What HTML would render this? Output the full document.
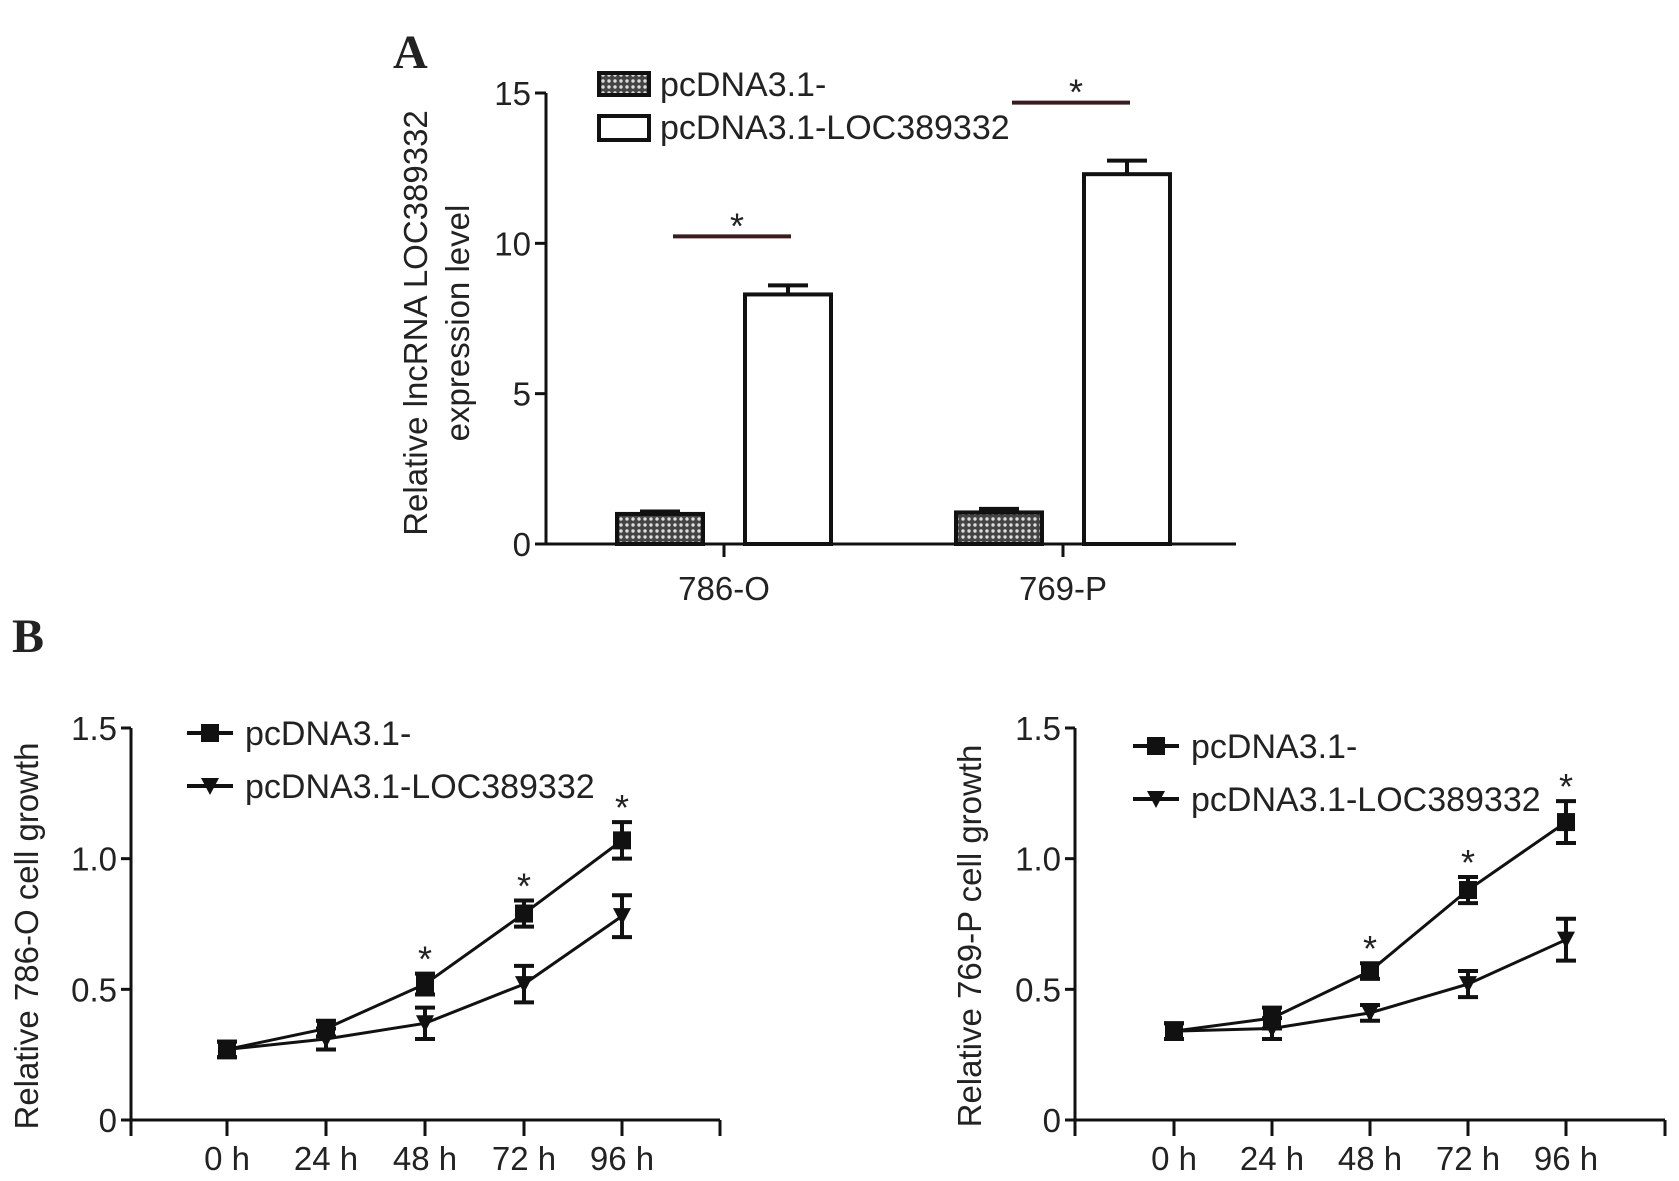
<!DOCTYPE html>
<html><head><meta charset="utf-8"><style>
html,body{margin:0;padding:0;background:#fff}
svg{display:block}
text{font-family:"Liberation Sans",Arial,sans-serif;fill:#222}
</style></head><body>
<svg id="fig" width="1679" height="1181" viewBox="0 0 1679 1181" xmlns="http://www.w3.org/2000/svg">
<defs>
<pattern id="dots" width="6" height="6" patternUnits="userSpaceOnUse">
<rect width="6" height="6" fill="#444"/><circle cx="3" cy="3" r="1.7" fill="#ddd"/>
</pattern>
</defs>
<text x="393" y="68" font-weight="bold" font-size="48" style="font-family:'Liberation Serif',serif">A</text>
<text x="12" y="652" font-weight="bold" font-size="48" style="font-family:'Liberation Serif',serif">B</text>
<g id="gA"></g>
<g id="gL"></g>
<g id="gR"></g>
</svg>
<script>
// Panel A data
const barCategories = ["786-O", "769-P"];
const barCtrl = [1.0, 1.05];
const barCtrlErr = [0.08, 0.12];
const barLoc = [8.3, 12.3];
const barLocErr = [0.3, 0.45];
const barTicks = [0, 5, 10, 15];
// Panel B data
const timeLabels = ["0 h", "24 h", "48 h", "72 h", "96 h"];
const growthTicks = [0, 0.5, 1.0, 1.5];
const tickText = ["0", "0.5", "1.0", "1.5"];
const g786Ctrl = [0.27, 0.35, 0.52, 0.79, 1.07];
const g786CtrlErr = [0.03, 0.03, 0.04, 0.05, 0.07];
const g786Loc = [0.27, 0.31, 0.37, 0.52, 0.78];
const g786LocErr = [0.03, 0.04, 0.06, 0.07, 0.08];
const g769Ctrl = [0.34, 0.39, 0.57, 0.88, 1.14];
const g769CtrlErr = [0.03, 0.04, 0.03, 0.05, 0.08];
const g769Loc = [0.34, 0.35, 0.41, 0.52, 0.69];
const g769LocErr = [0.03, 0.04, 0.03, 0.05, 0.08];
const starIdx = [2, 3, 4];

const NS = "http://www.w3.org/2000/svg";
function mk(parent, tag, attrs, txt) {
  const e = document.createElementNS(NS, tag);
  for (const k in attrs) e.setAttribute(k, attrs[k]);
  if (txt !== undefined) e.textContent = txt;
  parent.appendChild(e);
  return e;
}
const K = "#111";
const FT = 33, FL = 34, FTT = 33, FS = 36;

// ---------- Panel A ----------
(function(){
  const g = document.getElementById("gA");
  const x0 = 546, x1 = 1236, yb = 544, yt = 93, vmax = 15;
  const y = v => yb - (v / vmax) * (yb - yt);
  const centers = [724, 1063];
  const bw = 86, gap = 42;
  let e;
  e = mk(g, "line", {x1: x0, y1: yt, x2: x0, y2: yb, stroke: K, "stroke-width": 3});
  
  
  e = mk(g, "line", {x1: x0 - 1, y1: yb, x2: x1, y2: yb, stroke: K, "stroke-width": 3});
  
  
  barTicks.forEach(v => {
    mk(g, "line", {x1: x0 - 11, y1: y(v), x2: x0, y2: y(v), stroke: K, "stroke-width": 3});
    e = mk(g, "text", {x: x0 - 15, y: y(v) + 12, "font-size": FT, "text-anchor": "end"}, String(v));
    
    
  });
  barCategories.forEach((c, i) => {
    const cx = centers[i];
    mk(g, "line", {x1: cx, y1: yb, x2: cx, y2: yb + 13, stroke: K, "stroke-width": 3});
    e = mk(g, "text", {x: cx, y: yb + 56, "font-size": FT, "text-anchor": "middle"}, c);
    
    
    const xa = cx - gap / 2 - bw, xb = cx + gap / 2;
    [[xa, barCtrl[i], barCtrlErr[i]], [xb, barLoc[i], barLocErr[i]]].forEach(([bx, v, er]) => {
      mk(g, "line", {x1: bx + bw / 2, y1: y(v), x2: bx + bw / 2, y2: y(v + er), stroke: K, "stroke-width": 4});
      mk(g, "line", {x1: bx + bw / 2 - 20, y1: y(v + er), x2: bx + bw / 2 + 20, y2: y(v + er), stroke: K, "stroke-width": 4});
    });
    e = mk(g, "rect", {x: xa, y: y(barCtrl[i]), width: bw, height: yb - y(barCtrl[i]), fill: "url(#dots)", stroke: K, "stroke-width": 4});
    
    
    e = mk(g, "rect", {x: xb, y: y(barLoc[i]), width: bw, height: yb - y(barLoc[i]), fill: "#fff", stroke: K, "stroke-width": 4});
    
    
    const sy = y(barLoc[i] + barLocErr[i]) - (i === 0 ? 49 : 58);
    e = mk(g, "line", {x1: cx - 51, y1: sy, x2: cx + 67, y2: sy, stroke: "#3a1c1e", "stroke-width": 4});
    
    
    e = mk(g, "text", {x: cx + 13, y: sy + 2, "font-size": FS, "text-anchor": "middle"}, "*");
    
    
  });
  e = mk(g, "text", {transform: "translate(427,323) rotate(-90)", "font-size": FTT, "text-anchor": "middle"}, "Relative lncRNA LOC389332");
  
  
  e = mk(g, "text", {transform: "translate(469,323) rotate(-90)", "font-size": FTT, "text-anchor": "middle"}, "expression level");
  
  
  e = mk(g, "rect", {x: 599, y: 73, width: 50, height: 22, fill: "url(#dots)", stroke: K, "stroke-width": 4});
  
  
  e = mk(g, "text", {x: 660, y: 96, "font-size": FL}, "pcDNA3.1-");
  
  
  e = mk(g, "rect", {x: 599, y: 116, width: 50, height: 24, fill: "#fff", stroke: K, "stroke-width": 4});
  
  
  e = mk(g, "text", {x: 660, y: 139, "font-size": FL}, "pcDNA3.1-LOC389332");
  
  
})();

// ---------- Panel B ----------
function growth(gid, opt, ctrl, ctrlErr, loc, locErr) {
  const g = document.getElementById(gid);
  const {x0, x1, xt, yb, yt, titleX, title, legX, legY} = opt;
  const y = v => yb - (v / 1.5) * (yb - yt);
  let e;
  e = mk(g, "line", {x1: x0, y1: yt, x2: x0, y2: yb + 16, stroke: K, "stroke-width": 3});
  
  
  e = mk(g, "line", {x1: x0, y1: yb, x2: x1, y2: yb, stroke: K, "stroke-width": 3});
  
  
  mk(g, "line", {x1: x1, y1: yb, x2: x1, y2: yb + 16, stroke: K, "stroke-width": 3});
  growthTicks.forEach((v, i) => {
    mk(g, "line", {x1: x0 - 10, y1: y(v), x2: x0, y2: y(v), stroke: K, "stroke-width": 3});
    e = mk(g, "text", {x: x0 - 14, y: y(v) + 12, "font-size": FT, "text-anchor": "end"}, tickText[i]);
    
    
  });
  timeLabels.forEach((t, i) => {
    mk(g, "line", {x1: xt[i], y1: yb, x2: xt[i], y2: yb + 16, stroke: K, "stroke-width": 3});
    e = mk(g, "text", {x: xt[i], y: yb + 50, "font-size": FT, "text-anchor": "middle"}, t);
    
    
  });
  e = mk(g, "text", {transform: `translate(${titleX},${(yt + yb) / 2 + 12}) rotate(-90)`, "font-size": FTT, "text-anchor": "middle"}, title);
  
  
  const line = vals => vals.map((v, i) => `${xt[i]},${y(v)}`).join(" ");
  e = mk(g, "polyline", {points: line(ctrl), fill: "none", stroke: K, "stroke-width": 3});
  
  
  e = mk(g, "polyline", {points: line(loc), fill: "none", stroke: K, "stroke-width": 3});
  
  
  const err = (vals, errs) => vals.forEach((v, i) => {
    const x = xt[i], a = y(v + errs[i]), b = y(v - errs[i]);
    mk(g, "line", {x1: x, y1: a, x2: x, y2: b, stroke: K, "stroke-width": 4});
    mk(g, "line", {x1: x - 10, y1: a, x2: x + 10, y2: a, stroke: K, "stroke-width": 4});
    mk(g, "line", {x1: x - 10, y1: b, x2: x + 10, y2: b, stroke: K, "stroke-width": 4});
  });
  err(ctrl, ctrlErr); err(loc, locErr);
  loc.forEach((v, i) => {
    e = mk(g, "path", {d: `M${xt[i] - 9},${y(v) - 8} L${xt[i] + 9},${y(v) - 8} L${xt[i]},${y(v) + 9} Z`, fill: K});
    
    
  });
  ctrl.forEach((v, i) => {
    e = mk(g, "rect", {x: xt[i] - 9, y: y(v) - 9, width: 18, height: 18, fill: K});
    
    
  });
  starIdx.forEach(i => {
    e = mk(g, "text", {x: xt[i], y: y(ctrl[i] + ctrlErr[i]) - 2, "font-size": FS, "text-anchor": "middle"}, "*");
    
    
  });
  mk(g, "line", {x1: legX, y1: legY, x2: legX + 46, y2: legY, stroke: K, "stroke-width": 4});
  e = mk(g, "rect", {x: legX + 14, y: legY - 9, width: 18, height: 18, fill: K});
  
  
  e = mk(g, "text", {x: legX + 58, y: legY + 12, "font-size": FL}, "pcDNA3.1-");
  
  
  const l2 = legY + 53;
  mk(g, "line", {x1: legX, y1: l2, x2: legX + 46, y2: l2, stroke: K, "stroke-width": 4});
  e = mk(g, "path", {d: `M${legX + 14},${l2 - 8} L${legX + 32},${l2 - 8} L${legX + 23},${l2 + 9} Z`, fill: K});
  
  
  e = mk(g, "text", {x: legX + 58, y: l2 + 12, "font-size": FL}, "pcDNA3.1-LOC389332");
  
  
}
growth("gL", {x0: 131, x1: 720, xt: [227, 326, 425, 524, 622], yb: 1120, yt: 728, titleX: 38, title: "Relative 786-O cell growth", legX: 187, legY: 733}, g786Ctrl, g786CtrlErr, g786Loc, g786LocErr);
growth("gR", {x0: 1075, x1: 1665, xt: [1174, 1272, 1370, 1468, 1566], yb: 1120, yt: 728, titleX: 981, title: "Relative 769-P cell growth", legX: 1133, legY: 746}, g769Ctrl, g769CtrlErr, g769Loc, g769LocErr);
</script>
</body></html>
